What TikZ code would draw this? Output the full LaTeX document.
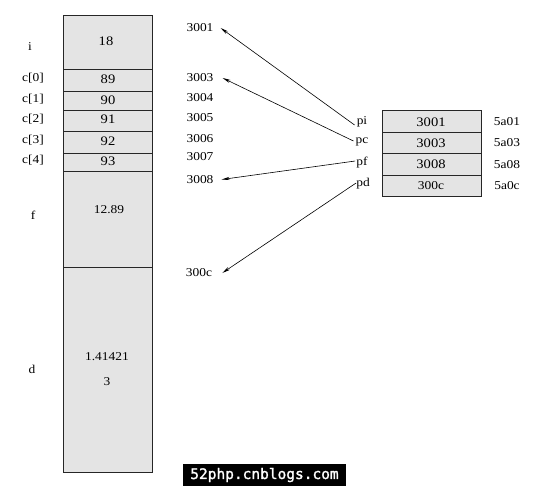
\documentclass[tikz,border=0pt]{standalone}
\usepackage{fontspec}
\setmainfont{Liberation Serif}[FakeStretch=1.12]
\newfontfamily\wmfont{DejaVu Sans Mono}[FakeBold=1.5]
\usetikzlibrary{arrows.meta}
\definecolor{cellgray}{HTML}{E4E4E4}
\tikzset{
  cell/.style={draw=black!85, line width=0.9pt, fill=cellgray, minimum width=89pt, inner sep=0pt, outer sep=0pt},
  pcell/.style={draw=black!85, line width=0.9pt, fill=cellgray, minimum width=99pt, minimum height=21.5pt, inner sep=0pt, outer sep=0pt},
  lbl/.style={inner sep=1pt, font=\fontsize{12}{13}\selectfont},
  val/.style={inner sep=1pt, font=\fontsize{13}{14}\selectfont},
  ptr/.style={line width=0.6pt, -{Stealth[length=8pt,width=3.2pt]}}
}
\begin{document}
\begin{tikzpicture}[x=1pt,y=-1pt]
\useasboundingbox (0,0) rectangle (535,485);
% left memory column
\node[cell, minimum height=54pt] (ci) at (107.5,42) {};
\node[cell, minimum height=22pt] (cc0) at (107.5,80) {};
\node[cell, minimum height=19pt] (cc1) at (107.5,100.5) {};
\node[cell, minimum height=21pt] (cc2) at (107.5,120.5) {};
\node[cell, minimum height=22pt] (cc3) at (107.5,142) {};
\node[cell, minimum height=18pt] (cc4) at (107.5,162) {};
\node[cell, minimum height=96pt] (cf) at (107.5,219) {};
\node[cell, minimum height=205pt] (cd) at (107.5,369.5) {};
% values
\node[val] (v18) at (106,41) {18};
\node[val] (v89) at (108,79) {89};
\node[val] (v90) at (108,100) {90};
\node[val] (v91) at (108,119.5) {91};
\node[val] (v92) at (108,141) {92};
\node[val] (v93) at (108,161) {93};
\node[lbl] (v1289) at (109,210) {12.89};
\node[lbl] (vsq) at (107,357) {1.41421};
\node[lbl] (v3) at (107,382) {3};
% names
\node[lbl] (ni) at (30,47) {i};
\node[lbl] (nc0) at (33,78) {c[0]};
\node[lbl] (nc1) at (33,99) {c[1]};
\node[lbl] (nc2) at (33,119) {c[2]};
\node[lbl] (nc3) at (33,140) {c[3]};
\node[lbl] (nc4) at (33,160) {c[4]};
\node[lbl] (nf) at (33,215) {f};
\node[lbl] (nd) at (32,369) {d};
% addresses
\node[lbl] (a3001) at (200,28) {3001};
\node[lbl] (a3003) at (200,78) {3003};
\node[lbl] (a3004) at (200,98) {3004};
\node[lbl] (a3005) at (200,118) {3005};
\node[lbl] (a3006) at (200,139) {3006};
\node[lbl] (a3007) at (200,157) {3007};
\node[lbl] (a3008) at (200,179.5) {3008};
\node[lbl] (a300c) at (199,273) {300c};
% pointer cells
\node[pcell] (ppi) at (431.5,121.5) {};
\node[pcell] (ppc) at (431.5,143) {};
\node[pcell] (ppf) at (431.5,164.5) {};
\node[pcell] (ppd) at (431.5,186) {};
\node[val] (vpi) at (431,122) {3001};
\node[val] (vpc) at (431,143) {3003};
\node[val] (vpf) at (431,164) {3008};
\node[lbl] (vpd) at (431,186) {300c};
% pointer names
\node[lbl] (pi) at (362,122) {pi};
\node[lbl] (pc) at (362,142) {pc};
\node[lbl] (pf) at (362,163) {pf};
\node[lbl] (pd) at (363,184) {pd};
% pointer addresses
\node[lbl] (b1) at (507,122) {5a01};
\node[lbl] (b2) at (507,143) {5a03};
\node[lbl] (b3) at (507,165) {5a08};
\node[lbl] (b4) at (507,186) {5a0c};
% arrows
\draw[ptr] ([shift={(-1pt,-3pt)}]pi.west) -- ([xshift=6pt]a3001.east);
\draw[ptr] ([shift={(-1pt,1pt)}]pc.west) -- ([xshift=8pt]a3003.east);
\draw[ptr] ([shift={(0pt,2pt)}]pf.west) -- ([xshift=7pt]a3008.east);
\draw[ptr] ([shift={(1pt,1pt)}]pd.west) -- ([xshift=9pt]a300c.east);
% watermark
\node[fill=black, text=white, minimum width=163pt, minimum height=22pt, inner sep=0pt, font=\wmfont\fontsize{14.5}{16}\selectfont] (wm) at (264.5,475) {52php.cnblogs.com};
\end{tikzpicture}
\end{document}
